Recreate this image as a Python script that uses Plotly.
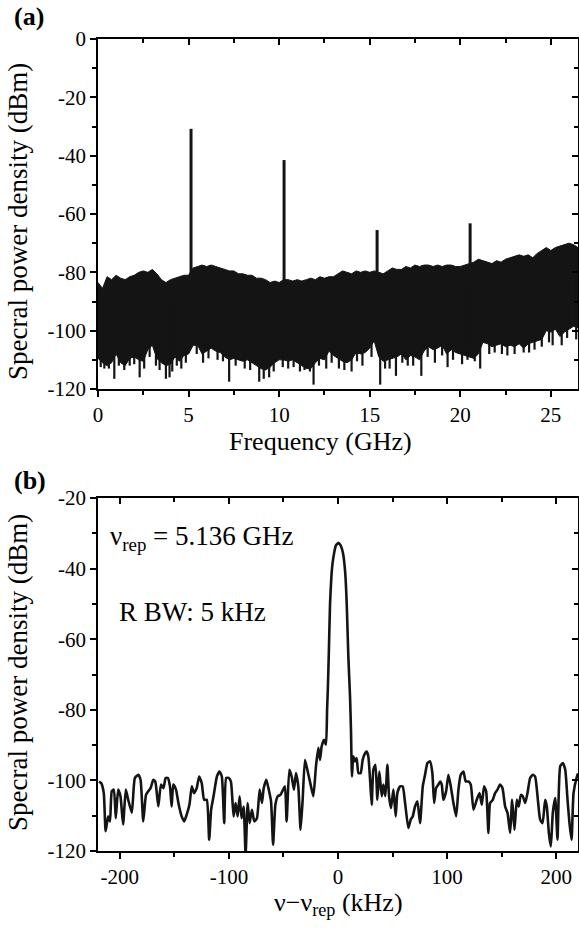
import numpy as np
import plotly.graph_objects as go

# ---------------- Panel (a) data: broadband RF spectrum ----------------
freq_grid_ghz = [round(0.25 * i, 2) for i in range(107)]  # 0 .. 26.5 GHz sample positions

noise_upper_dbm = [
    -83.5, -85.5, -81.5, -82.5, -81.0, -82.0, -82.5, -81.5, -81.0, -80.0,
    -79.5, -80.0, -79.0, -80.5, -82.5, -83.5, -82.5, -82.0, -81.5, -81.0,
    -81.0, -78.5, -78.0, -77.5, -78.0, -77.5, -78.0, -78.5, -79.0, -79.5,
    -79.5, -80.5, -80.5, -81.0, -81.0, -82.0, -82.0, -82.5, -83.5, -83.0,
    -83.5, -82.5, -82.5, -83.0, -82.5, -83.0, -82.5, -82.0, -82.5, -81.5,
    -82.0, -81.5, -81.5, -80.5, -79.5, -80.0, -80.5, -79.5, -80.0, -79.5,
    -80.0, -79.5, -80.0, -80.5, -79.5, -78.5, -79.0, -79.0, -78.0, -78.5,
    -77.5, -78.0, -77.5, -77.5, -78.0, -77.5, -78.0, -77.5, -77.5, -78.0,
    -78.0, -77.5, -77.0, -76.5, -75.5, -76.0, -76.5, -77.0, -76.0, -76.5,
    -75.5, -75.0, -74.5, -74.0, -74.5, -74.0, -75.0, -73.5, -72.5, -71.5,
    -72.5, -71.5, -71.0, -70.5, -70.0, -70.5, -71.5,
]

noise_lower_dbm = [
    -109.5, -111.0, -112.0, -111.0, -108.0, -111.0, -112.0, -109.5, -109.0, -110.0,
    -110.5, -106.5, -105.0, -109.5, -111.0, -112.0, -111.5, -109.0, -110.5, -108.5,
    -108.0, -105.0, -105.0, -108.0, -107.0, -106.0, -107.0, -107.5, -109.0, -110.0,
    -109.5, -110.0, -110.5, -110.0, -111.0, -112.0, -113.0, -113.5, -112.5, -111.0,
    -110.0, -110.0, -110.5, -110.0, -111.0, -112.0, -113.0, -113.0, -111.0, -109.5,
    -110.0, -107.0, -108.5, -109.5, -110.5, -111.0, -110.0, -107.5, -108.0, -107.5,
    -106.0, -103.5, -109.0, -110.5, -110.0, -109.5, -109.0, -108.0, -110.0, -108.5,
    -109.0, -110.0, -107.0, -105.5, -106.5, -106.0, -105.0, -108.0, -106.5, -107.5,
    -108.0, -108.5, -109.0, -109.5, -108.0, -104.0, -104.5, -105.5, -105.0, -104.5,
    -105.5, -105.0, -105.5, -104.5, -106.0, -104.5, -104.0, -103.5, -103.0, -100.0,
    -100.5, -99.5, -102.0, -100.5, -99.5, -98.5, -99.0,
]

dip_freq_ghz = [0.15, 0.35, 0.6, 0.9, 1.15, 1.45, 1.75, 2.0, 2.3, 2.55, 2.85, 3.2,
                3.4, 3.75, 3.95, 4.1, 4.35, 4.6, 4.85, 5.45, 5.8, 6.1, 6.6, 6.9,
                7.24, 7.6, 8.1, 8.4, 8.9, 9.15, 9.45, 9.7, 10.2, 10.5, 10.8, 11.15,
                11.4, 11.7, 11.9, 12.2, 12.6, 12.9, 13.3, 13.6, 14.0, 14.3, 14.6,
                15.1, 15.58, 15.85, 16.1, 16.45, 16.8, 17.1, 17.4, 17.85, 18.2,
                18.6, 19.0, 19.3, 19.6, 20.1, 20.4, 20.8, 21.1, 21.6, 21.9, 22.3,
                22.6, 23.0, 23.5, 23.8, 24.1, 24.5, 24.9, 25.1, 25.6, 25.9, 26.4]
dip_dbm = [-112.5, -113.0, -113.0, -116.5, -112.0, -113.5, -112.0, -111.5, -116.0,
           -113.0, -109.0, -112.0, -113.5, -116.5, -116.0, -114.0, -112.0, -113.0,
           -111.0, -108.0, -111.0, -109.5, -110.0, -110.5, -117.5, -112.0, -113.0,
           -113.5, -117.5, -116.5, -116.0, -114.0, -112.5, -113.0, -112.5, -114.0,
           -113.5, -114.0, -118.5, -112.0, -113.0, -111.0, -113.0, -113.5, -114.0,
           -110.5, -112.0, -109.0, -118.5, -113.0, -113.0, -115.5, -111.0, -112.0,
           -112.0, -115.5, -109.0, -111.0, -108.5, -112.5, -110.0, -111.5, -110.0,
           -110.5, -113.0, -108.0, -107.5, -108.0, -108.5, -108.0, -107.5, -107.5,
           -106.5, -105.5, -104.0, -105.0, -105.0, -102.5, -103.0]

harmonic_freq_ghz = [5.136, 10.272, 15.408, 20.544]
harmonic_dbm = [-30.8, -41.5, -65.5, -63.2]

# ---------------- Panel (b) data: fundamental beat note ----------------
offset_khz = [
    -219, -217, -214.7, -213, -210.7, -209, -207.4, -205.5, -203.7, -201.5,
    -199.4, -197, -194.5, -192.3, -189, -186.2, -183, -181, -178.5, -176,
    -174, -171.8, -169.3, -167.5, -164.7, -162.3, -160, -158, -156, -154,
    -152.5, -151, -148.5, -146.3, -143.3, -141, -138.7, -136.2, -134, -132,
    -129.5, -127.3, -124.9, -122.7, -120.3, -118.1, -116.3, -114.1, -111, -108.6,
    -106.5, -104.3, -102.5, -100.3, -98.2, -95.7, -93.9, -92, -90.2, -88.4,
    -86.5, -84.7, -82.8, -81, -78.9, -76.7, -74.3, -71.8, -69.7, -68.1,
    -65.7, -63.5, -61.4, -59.5, -57.4, -55.2, -52.8, -50.3, -48.6, -47.1,
    -44.6, -42.5, -40.4, -38.5, -36.4, -34.3, -32.4, -30.3, -28.1, -25.7,
    -22.6, -20.2, -18, -16.5, -15, -12.8, -11, -10, -9.3, -8.5,
    -7.3, -6, -5, -3.5, -2, 0.5, 2.5, 4.5, 6, 7,
    8, 9.5, 11, 11.9, 12.8, 14, 15.6, 17.1, 18.7, 20.8,
    22.6, 24.8, 26.3, 27.8, 29.4, 30.9, 32.4, 34.3, 36.1, 37.9,
    40.1, 41.6, 43.4, 45.3, 46.8, 48.6, 50.8, 52.9, 54.4, 56.9,
    59.3, 61.5, 64.5, 66.7, 68.5, 70.6, 72.8, 75.2, 77.7, 79.8,
    82, 84.4, 86.5, 88.1, 89.9, 92, 93.6, 95.1, 96.6, 99.1,
    101.2, 103.4, 105.8, 108.3, 110.4, 112.5, 115, 117.1, 119.6, 121.7,
    124.2, 127.2, 129.7, 131.8, 133.9, 135.8, 137.9, 139.4, 141.9, 144,
    146.2, 148.6, 150.8, 153.2, 155.4, 157.8, 159.6, 161.8, 163.9, 165.7,
    167.6, 169.4, 171.6, 173.7, 176.1, 178.6, 180.7, 182.9, 185.3, 187.5,
    189.9, 191.4, 193.3, 195.1, 196.9, 199.1, 201.2, 203.7, 206.1, 208.3,
    210.4, 212.2, 214.1, 215.9, 219, 220,
]
beat_dbm = [
    -100.3, -100.8, -103.6, -114.4, -110.2, -111.6, -103.1, -102.6, -110.7, -102.6,
    -104.5, -112.5, -102.6, -105.5, -109.2, -99.3, -98.4, -99.8, -111.6, -104.1,
    -103.1, -102.2, -99.8, -100.3, -107.4, -101.2, -102.2, -99.3, -99.3, -101.7,
    -107.4, -101.2, -102.6, -106.4, -110.2, -111.6, -109.7, -106.9, -101.7, -103.6,
    -102.2, -98.9, -100.8, -105.5, -105.5, -116.8, -108.3, -104.5, -98.9, -97.5,
    -98.9, -112.1, -99.3, -99.3, -100.3, -110.2, -106.4, -110.2, -104.5, -110.7,
    -107.4, -121.0, -106.4, -112.1, -108.3, -111.6, -110.7, -102.6, -106.4, -102.2,
    -99.8, -102.6, -105.9, -118.2, -106.9, -104.5, -104.1, -102.6, -101.7, -111.6,
    -97.0, -98.9, -102.6, -97.9, -101.7, -114.0, -105.5, -94.2, -97.0, -100.3,
    -104.5, -96.0, -90.8, -94.2, -90.4, -88.5, -89.9, -80.0, -74.0, -65.0,
    -50.0, -42.0, -38.5, -35.5, -33.5, -32.7, -33.5, -35.5, -39.0, -43.0,
    -50.0, -65.0, -76.0, -85.7, -98.9, -93.2, -94.6, -93.7, -97.9, -97.9,
    -94.2, -92.3, -91.8, -93.2, -99.8, -106.9, -97.0, -95.6, -105.5, -97.5,
    -104.5, -101.2, -104.5, -95.6, -104.5, -107.8, -102.6, -110.2, -103.6, -101.7,
    -101.7, -106.4, -113.5, -111.1, -110.2, -107.4, -105.9, -112.1, -101.7, -98.4,
    -95.1, -94.6, -97.9, -106.4, -102.2, -101.2, -100.3, -101.2, -105.5, -103.1,
    -98.4, -101.7, -106.4, -110.2, -102.6, -98.4, -97.5, -100.3, -100.3, -101.2,
    -108.3, -105.5, -103.6, -106.9, -101.7, -103.1, -114.9, -106.4, -105.5, -103.6,
    -102.6, -101.2, -102.2, -107.4, -109.2, -114.9, -105.5, -114.0, -105.5, -107.4,
    -104.1, -104.5, -106.4, -103.6, -99.3, -98.4, -98.9, -104.5, -111.1, -112.1,
    -105.5, -107.4, -114.9, -118.7, -109.2, -105.0, -116.8, -96.0, -95.1, -97.0,
    -105.5, -112.1, -116.8, -103.6, -98.9, -98.0,
]

# ---------------- Tick labels ----------------
a_xticks = [0, 5, 10, 15, 20, 25]
a_xticktext = ["0", "5", "10", "15", "20", "25"]
a_xminor = [2.5, 7.5, 12.5, 17.5, 22.5]
a_yticks = [-120, -100, -80, -60, -40, -20, 0]
a_yticktext = ["-120", "-100", "-80", "-60", "-40", "-20", "0"]
a_yminor = [-110, -90, -70, -50, -30, -10]
b_xticks = [-200, -100, 0, 100, 200]
b_xticktext = ["-200", "-100", "0", "100", "200"]
b_xminor = [-150, -50, 50, 150]
b_yticks = [-120, -100, -80, -60, -40, -20]
b_yticktext = ["-120", "-100", "-80", "-60", "-40", "-20"]
b_yminor = [-110, -90, -70, -50, -30]

# ---------------- Figure ----------------
W, H = 579, 928
FONT = "Liberation Serif"
INK = "#141414"


def px_x(p):
    return p / W


def px_y(p):
    return 1 - p / H


fig = go.Figure()

# Panel (a): noise band
band_x = list(freq_grid_ghz) + list(freq_grid_ghz[::-1])
band_y = list(noise_upper_dbm) + list(noise_lower_dbm[::-1])
fig.add_trace(go.Scatter(x=band_x, y=band_y, fill="toself", fillcolor=INK,
                         line=dict(color=INK, width=1), mode="lines",
                         xaxis="x", yaxis="y", hoverinfo="skip"))

# downward noise dips
dx, dy = [], []
for f, v in zip(dip_freq_ghz, dip_dbm):
    base = float(np.interp(f, freq_grid_ghz, noise_upper_dbm)) - 8
    dx += [f, f, None]
    dy += [base, v, None]
fig.add_trace(go.Scatter(x=dx, y=dy, mode="lines", line=dict(color=INK, width=2.2),
                         xaxis="x", yaxis="y", hoverinfo="skip"))

# harmonic lines
hx, hy = [], []
for f, v in zip(harmonic_freq_ghz, harmonic_dbm):
    base = float(np.interp(f, freq_grid_ghz, noise_lower_dbm)) + 5
    hx += [f, f, None]
    hy += [base, v, None]
fig.add_trace(go.Scatter(x=hx, y=hy, mode="lines", line=dict(color=INK, width=3),
                         xaxis="x", yaxis="y", hoverinfo="skip"))

# Panel (b): beat note
fig.add_trace(go.Scatter(x=offset_khz, y=beat_dbm, mode="lines",
                         line=dict(color=INK, width=2.6, shape="spline", smoothing=0.5),
                         xaxis="x2", yaxis="y2", hoverinfo="skip"))

# empty traces so that the mirror (top/right) axes are realised
fig.add_trace(go.Scatter(x=[None], y=[None], xaxis="x3", yaxis="y3", showlegend=False, hoverinfo="skip"))
fig.add_trace(go.Scatter(x=[None], y=[None], xaxis="x4", yaxis="y4", showlegend=False, hoverinfo="skip"))

a_xdom = [px_x(98), px_x(578)]
a_ydom = [px_y(389), px_y(39)]
b_xdom = [px_x(98), px_x(578)]
b_ydom = [px_y(851), px_y(498)]

tickfont = dict(family=FONT, size=21, color="black")
LW = 1.5


def minor(vals, side):
    return dict(tickmode="array", tickvals=vals, ticks=side, ticklen=4,
                tickwidth=LW, tickcolor="black")


def base_axis(**kw):
    d = dict(showline=True, linecolor="black", linewidth=LW, showgrid=False,
             zeroline=False, tickcolor="black", tickwidth=LW, ticklen=6,
             tickfont=tickfont, fixedrange=True, automargin=False, tickmode="array")
    d.update(kw)
    return d


fig.update_layout(
    width=W, height=H, margin=dict(l=0, r=0, t=0, b=0, pad=0, autoexpand=False),
    paper_bgcolor="white", plot_bgcolor="white", showlegend=False,
    xaxis=base_axis(domain=a_xdom, anchor="y", range=[0, 26.5],
                    tickvals=a_xticks, ticktext=a_xticktext, ticks="outside",
                    minor=minor(a_xminor, "outside")),
    yaxis=base_axis(domain=a_ydom, anchor="x", range=[-120, 0],
                    tickvals=a_yticks, ticktext=a_yticktext, ticks="outside",
                    minor=minor(a_yminor, "outside")),
    xaxis3=base_axis(domain=a_xdom, anchor="y3", overlaying="x", side="top",
                     range=[0, 26.5], tickvals=a_xticks, ticks="inside",
                     showticklabels=False, minor=minor(a_xminor, "inside")),
    yaxis3=base_axis(domain=a_ydom, anchor="x3", overlaying="y", side="right",
                     range=[-120, 0], tickvals=a_yticks, ticks="inside",
                     showticklabels=False, minor=minor(a_yminor, "inside")),
    xaxis2=base_axis(domain=b_xdom, anchor="y2", range=[-220, 220],
                     tickvals=b_xticks, ticktext=b_xticktext, ticks="outside",
                     minor=minor(b_xminor, "outside")),
    yaxis2=base_axis(domain=b_ydom, anchor="x2", range=[-120, -20],
                     tickvals=b_yticks, ticktext=b_yticktext, ticks="outside",
                     minor=minor(b_yminor, "outside")),
    xaxis4=base_axis(domain=b_xdom, anchor="y4", overlaying="x2", side="top",
                     range=[-220, 220], tickvals=b_xticks, ticks="inside",
                     showticklabels=False, minor=minor(b_xminor, "inside")),
    yaxis4=base_axis(domain=b_ydom, anchor="x4", overlaying="y2", side="right",
                     range=[-120, -20], tickvals=b_yticks, ticks="inside",
                     showticklabels=False, minor=minor(b_yminor, "inside")),
)


def ann(text, x, y, size, xanchor="center", yanchor="middle", angle=0):
    fig.add_annotation(text=text, x=px_x(x), y=px_y(y), xref="paper", yref="paper",
                       showarrow=False, xanchor=xanchor, yanchor=yanchor,
                       textangle=angle, font=dict(family=FONT, size=size, color="black"))


ann("<b>(a)</b>", 12, 17, 26, xanchor="left")
ann("<b>(b)</b>", 12, 481, 26, xanchor="left")
ann("Specral power density (dBm)", 18, 222, 27, angle=-90)
ann("Specral power density (dBm)", 18, 673, 27, angle=-90)
ann("Frequency (GHz)", 320, 442, 26)
ann("ν−ν<sub>rep</sub> (kHz)", 338, 904, 26)
ann("ν<sub>rep</sub> = 5.136 GHz", 108, 538, 27, xanchor="left")
ann("R BW: 5 kHz", 117, 612, 27, xanchor="left")

fig.write_html("out.html")
